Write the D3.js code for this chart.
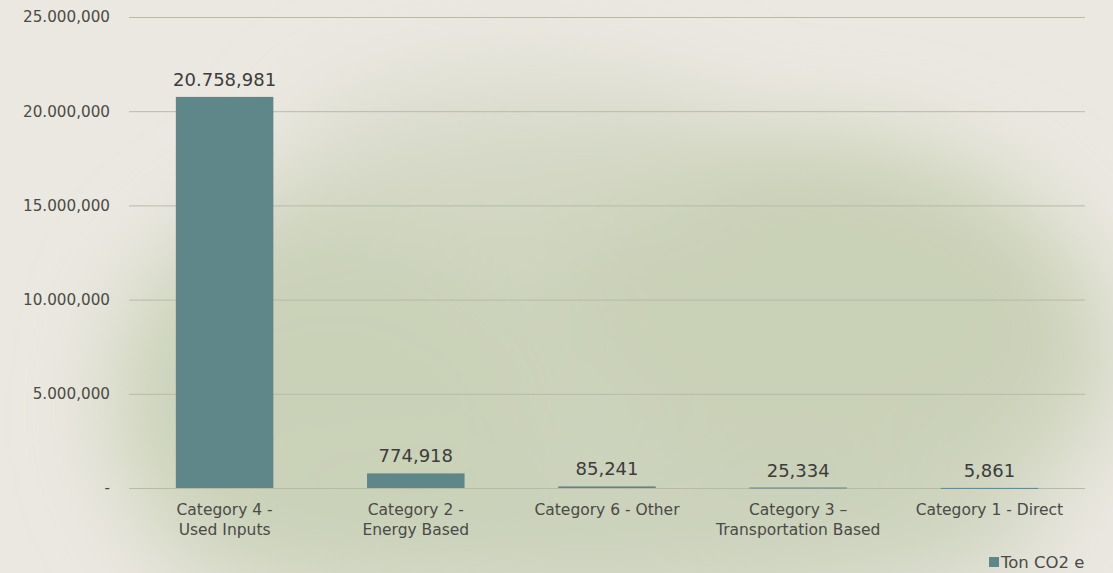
<!DOCTYPE html>
<html>
<head>
<meta charset="utf-8">
<script src="https://cdn.jsdelivr.net/npm/d3@7"></script>
<style>
  body { margin: 0; overflow: hidden; }
  svg { display: block; }
</style>
</head>
<body>
<svg id="drawing_region"></svg>
<script>
const categories = [
    ["Category 4 -", "Used Inputs"],
    ["Category 2 -", "Energy Based"],
    ["Category 6 - Other"],
    ["Category 3 \u2013", "Transportation Based"],
    ["Category 1 - Direct"]
];
const values = [20758981, 774918, 85241, 25334, 5861];
const valueLabels = ["20.758,981", "774,918", "85,241", "25,334", "5,861"];
const tickValues = [0, 5000000, 10000000, 15000000, 20000000, 25000000];
const tickLabels = ["-", "5.000,000", "10.000,000", "15.000,000", "20.000,000", "25.000,000"];
const seriesName = "Ton CO2 e";

const width = 1113, height = 573;
const margin = {top: 17, right: 28, bottom: 85, left: 129};
const font = "'DejaVu Sans', sans-serif";
const textColor = "#4a4a46";
const barColor = "#5f878a";

const svg = d3.select('#drawing_region')
    .attr('width', width)
    .attr('height', height);

// paper background with green wash
const defs = svg.append('defs');
const blur = defs.append('filter').attr('id', 'blur')
    .attr('x', '-50%').attr('y', '-50%').attr('width', '200%').attr('height', '200%');
blur.append('feGaussianBlur').attr('stdDeviation', 45);

svg.append('rect').attr('width', width).attr('height', height).attr('fill', '#ebe8e1');
const wash = svg.append('g').attr('filter', 'url(#blur)');
const washes = [
    {cx: 620, cy: 360, rx: 500, ry: 240, c: '#cad1b8', o: 0.85},
    {cx: 820, cy: 300, rx: 260, ry: 170, c: '#c5ceb0', o: 0.6},
    {cx: 330, cy: 420, rx: 220, ry: 180, c: '#c9d1b6', o: 0.8},
    {cx: 600, cy: 540, rx: 450, ry: 80, c: '#cbd2ba', o: 0.7},
    {cx: 520, cy: 150, rx: 230, ry: 90, c: '#d6d8c8', o: 0.6}
];
wash.selectAll('ellipse').data(washes).enter().append('ellipse')
    .attr('cx', d => d.cx).attr('cy', d => d.cy)
    .attr('rx', d => d.rx).attr('ry', d => d.ry)
    .attr('fill', d => d.c).attr('opacity', d => d.o);

const innerW = width - margin.left - margin.right;
const innerH = 488 - margin.top;

const chart = svg.append('g')
    .attr('transform', `translate(${margin.left}, ${margin.top})`);

const xscale = d3.scaleBand()
    .domain(d3.range(values.length))
    .range([0, innerW])
    .paddingInner(0.49)
    .paddingOuter(0.245);

const yscale = d3.scaleLinear()
    .domain([0, 25000000])
    .range([innerH, 0]);

// gridlines
chart.selectAll('.grid').data(tickValues).enter().append('line')
    .attr('x1', 0).attr('x2', innerW)
    .attr('y1', d => yscale(d) + 0.5).attr('y2', d => yscale(d) + 0.5)
    .attr('stroke', '#b8baa8').attr('stroke-width', 1);

// y axis
const yaxis = d3.axisLeft(yscale)
    .tickValues(tickValues)
    .tickSize(0)
    .tickPadding(19)
    .tickFormat((d, i) => tickLabels[i]);
const yg = chart.append('g').call(yaxis);
yg.select('.domain').remove();
yg.selectAll('text')
    .attr('font-family', font).attr('font-size', 15.2)
    .attr('fill', textColor);

// bars
chart.selectAll('.bar').data(values).enter().append('rect')
    .attr('x', (d, i) => xscale(i))
    .attr('y', d => yscale(d))
    .attr('width', xscale.bandwidth())
    .attr('height', d => Math.max(innerH - yscale(d), 1))
    .attr('fill', barColor);

// value labels
chart.selectAll('.val').data(values).enter().append('text')
    .attr('x', (d, i) => xscale(i) + xscale.bandwidth() / 2)
    .attr('y', d => yscale(d) - 11)
    .attr('text-anchor', 'middle')
    .attr('font-family', font).attr('font-size', 18)
    .attr('fill', '#3c3c3a')
    .text((d, i) => valueLabels[i]);

// category labels
const cat = chart.selectAll('.cat').data(categories).enter().append('text')
    .attr('text-anchor', 'middle')
    .attr('font-family', font).attr('font-size', 15.5)
    .attr('fill', textColor);
cat.selectAll('tspan').data((d, i) => d.map(t => ({t, i}))).enter().append('tspan')
    .attr('x', d => xscale(d.i) + xscale.bandwidth() / 2)
    .attr('y', (d, j) => innerH + 27 + j * 20)
    .text(d => d.t);

// legend
const legend = svg.append('g').attr('transform', 'translate(989, 557)');
legend.append('rect').attr('width', 10).attr('height', 10).attr('fill', barColor);
legend.append('text')
    .attr('x', 12).attr('y', 11)
    .attr('font-family', font).attr('font-size', 16.5)
    .attr('fill', textColor)
    .text(seriesName);
</script>
</body>
</html>
